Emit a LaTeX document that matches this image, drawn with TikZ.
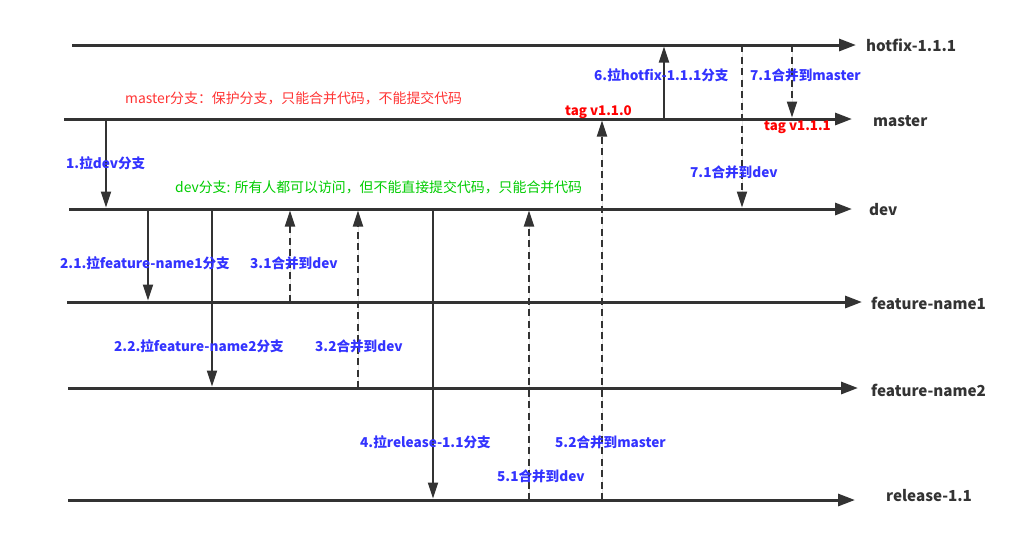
\documentclass[tikz,border=0pt]{standalone}
\usepackage{fontspec}
\setmainfont{Noto Sans CJK SC}
\usetikzlibrary{arrows.meta, positioning}
\definecolor{linegray}{HTML}{333333}
\definecolor{stepblue}{HTML}{3333FF}
\definecolor{tagred}{HTML}{FF0000}
\definecolor{notered}{HTML}{FF3333}
\definecolor{notegreen}{HTML}{00CC00}

\begin{document}
\begin{tikzpicture}[
  x=1pt, y=-1pt,
  branch/.style={-{Triangle[length=17pt, width=12pt]}, line width=3pt, draw=linegray, fill=linegray},
  pull/.style={-{Triangle[length=16pt, width=10pt]}, line width=2pt, draw=linegray, fill=linegray, shorten >=1.5pt},
  merge/.style={pull, dash pattern=on 7pt off 4.5pt},
  branchname/.style={anchor=west, inner sep=0pt, text=linegray, font=\fontsize{15.2}{18}\selectfont\bfseries},
  steplabel/.style={anchor=west, inner sep=0pt, text=stepblue, font=\fontsize{13.6}{16}\selectfont\bfseries},
  taglabel/.style={anchor=west, inner sep=0pt, text=tagred, font=\fontsize{13.3}{16}\selectfont\bfseries},
  note/.style={anchor=west, inner sep=0pt, font=\fontsize{13.9}{16}\selectfont}
]
\useasboundingbox (0,0) rectangle (1035,539);

% branch lines
\coordinate (hotfix_s) at (72,45);   \coordinate (hotfix_e) at (856,45);
\coordinate (master_s) at (64,119);  \coordinate (master_e) at (852,119);
\coordinate (dev_s) at (69,209);     \coordinate (dev_e) at (852,209);
\coordinate (feat1_s) at (67,302);   \coordinate (feat1_e) at (862,302);
\coordinate (feat2_s) at (68,388);   \coordinate (feat2_e) at (858,388);
\coordinate (rel_s) at (68,500);     \coordinate (rel_e) at (855,500);

\draw[branch] (hotfix_s) -- (hotfix_e);
\draw[branch] (master_s) -- (master_e);
\draw[branch] (dev_s) -- (dev_e);
\draw[branch] (feat1_s) -- (feat1_e);
\draw[branch] (feat2_s) -- (feat2_e);
\draw[branch] (rel_s) -- (rel_e);

\node[branchname] (hotfix) at (866,45) {hotfix-1.1.1};
\node[branchname] (master) at (873,121) {master};
\node[branchname] (dev) at (869,210) {dev};
\node[branchname] (feat1) at (871,303) {feature-name1};
\node[branchname] (feat2) at (871,390) {feature-name2};
\node[branchname] (release) at (886,496) {release-1.1};

% pulls and merges
\coordinate (p1_a) at (106,119);   \coordinate (p1_b) at (106,209);
\coordinate (p21_a) at (148,209);  \coordinate (p21_b) at (148,302);
\coordinate (p22_a) at (212,209);  \coordinate (p22_b) at (212,388);
\coordinate (m31_a) at (290,302);  \coordinate (m31_b) at (290,209);
\coordinate (m32_a) at (358,388);  \coordinate (m32_b) at (358,209);
\coordinate (p4_a) at (433,209);   \coordinate (p4_b) at (433,500);
\coordinate (m51_a) at (529,500);  \coordinate (m51_b) at (529,209);
\coordinate (m52_a) at (602,500);  \coordinate (m52_b) at (602,119);
\coordinate (p6_a) at (664,119);   \coordinate (p6_b) at (664,45);
\coordinate (m7d_a) at (742,45);   \coordinate (m7d_b) at (742,209);
\coordinate (m7m_a) at (792,45);   \coordinate (m7m_b) at (792,119);

\draw[pull] (p1_a) -- (p1_b);
\draw[pull] (p21_a) -- (p21_b);
\draw[pull] (p22_a) -- (p22_b);
\draw[merge] (m31_a) -- (m31_b);
\draw[merge] (m32_a) -- (m32_b);
\draw[pull] (p4_a) -- (p4_b);
\draw[merge] (m51_a) -- (m51_b);
\draw[merge] (m52_a) -- (m52_b);
\draw[pull] (p6_a) -- (p6_b);
\draw[merge] (m7d_a) -- (m7d_b);
\draw[merge] (m7m_a) -- (m7m_b);

% step labels
\node[steplabel] (s1) at (66,163) {1.拉dev分支};
\node[steplabel] (s21) at (60,263) {2.1.拉feature-name1分支};
\node[steplabel] (s31) at (250,263) {3.1合并到dev};
\node[steplabel] (s22) at (114,346) {2.2.拉feature-name2分支};
\node[steplabel] (s32) at (315,346) {3.2合并到dev};
\node[steplabel] (s4) at (360,442) {4.拉release-1.1分支};
\node[steplabel] (s52) at (555,442) {5.2合并到master};
\node[steplabel] (s51) at (497,476) {5.1合并到dev};
\node[steplabel] (s6) at (594,75) {6.拉hotfix-1.1.1分支};
\node[steplabel] (s7m) at (750,75) {7.1合并到master};
\node[steplabel] (s7d) at (690,172) {7.1合并到dev};

\node[taglabel] (tag110) at (565,112) {tag v1.1.0};
\node[taglabel] (tag111) at (764,127) {tag v1.1.1};

\node[note, text=notered] (masternote) at (125,98) {master分支：保护分支，只能合并代码，不能提交代码};
\node[note, text=notegreen] (devnote) at (175,187) {dev分支: 所有人都可以访问，但不能直接提交代码，只能合并代码};

\end{tikzpicture}
\end{document}
